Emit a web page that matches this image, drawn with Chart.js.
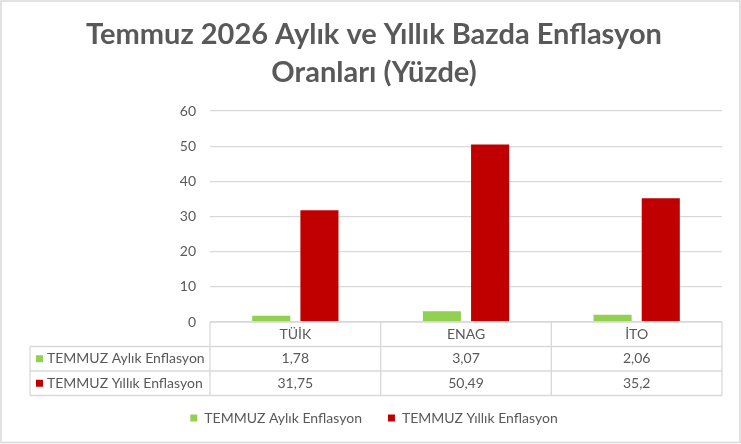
<!DOCTYPE html>
<html>
<head>
<meta charset="utf-8">
<script src="https://cdn.jsdelivr.net/npm/chart.js"></script>
<style>
  html, body { margin: 0; padding: 0; background: #fff; }
  canvas { display: block; }
</style>
</head>
<body>
<canvas id="chart" width="741" height="444"></canvas>
<script>
// data
const categories = ['TÜİK', 'ENAG', 'İTO']
const aylik = [1.78, 3.07, 2.06]
const yillik = [31.75, 50.49, 35.2]
const seriesNames = ['TEMMUZ Aylık Enflasyon', 'TEMMUZ Yıllık Enflasyon']
const yTicks = [0, 10, 20, 30, 40, 50, 60]
const titleLines = ['Temmuz 2026 Aylık ve Yıllık Bazda Enflasyon', 'Oranları (Yüzde)']

const GREEN = '#92D050'
const RED = '#C00000'
const TEXT = '#595959'
const LINE = '#D9D9D9'
const FONT = 'Lato, "Open Sans", sans-serif'

const fmt = v => String(v).replace('.', ',')

// border + white background
const frame = {
    id: 'frame',
    beforeDraw(chart) {
        const ctx = chart.ctx
        ctx.save()
        ctx.fillStyle = '#fff'
        ctx.fillRect(0, 0, chart.width, chart.height)
        ctx.strokeStyle = LINE
        ctx.lineWidth = 1.5
        ctx.strokeRect(1, 1, chart.width - 2, chart.height - 2.5)
        ctx.restore()
    }
}

// Excel style data table under the plot
const dataTable = {
    id: 'dataTable',
    afterDraw(chart) {
        const ctx = chart.ctx
        const x = chart.scales.x
        const area = chart.chartArea
        const top = area.bottom
        const rowH = 24.5
        const left = 30
        const catW = (area.right - area.left) / categories.length
        const rows = [
            { name: seriesNames[0], color: GREEN, values: aylik },
            { name: seriesNames[1], color: RED, values: yillik }
        ]
        const bottom = top + rowH * (rows.length + 1)

        ctx.save()
        ctx.strokeStyle = LINE
        ctx.lineWidth = 1.3
        ctx.beginPath()
        ctx.moveTo(area.left, top); ctx.lineTo(area.right, top)
        for (let r = 1; r <= rows.length + 1; r++) {
            ctx.moveTo(left, top + r * rowH); ctx.lineTo(area.right, top + r * rowH)
        }
        ctx.moveTo(left, top + rowH); ctx.lineTo(left, bottom)
        for (let i = 0; i <= categories.length; i++) {
            const cx = area.left + i * catW
            ctx.moveTo(cx, top); ctx.lineTo(cx, bottom)
        }
        ctx.stroke()

        ctx.font = '14px ' + FONT
        ctx.fillStyle = TEXT
        ctx.textBaseline = 'middle'
        ctx.textAlign = 'center'
        categories.forEach((c, i) => {
            ctx.fillText(c, x.getPixelForValue(i), top + rowH / 2)
        })
        rows.forEach((row, r) => {
            const cy = top + rowH * (r + 1.5)
            ctx.fillStyle = row.color
            ctx.fillRect(36, cy - 3.5, 7, 7)
            ctx.fillStyle = TEXT
            ctx.textAlign = 'left'
            ctx.fillText(row.name, 47, cy)
            ctx.textAlign = 'center'
            row.values.forEach((v, i) => {
                ctx.fillText(fmt(v), x.getPixelForValue(i), cy)
            })
        })
        ctx.restore()
    }
}

new Chart(document.getElementById('chart'), {
    type: 'bar',
    data: {
        labels: categories,
        datasets: [
            { label: seriesNames[0], data: aylik, backgroundColor: GREEN, borderWidth: 0 },
            { label: seriesNames[1], data: yillik, backgroundColor: RED, borderWidth: 0 }
        ]
    },
    options: {
        responsive: false,
        animation: false,
        devicePixelRatio: 1,
        categoryPercentage: 0.565,
        barPercentage: 0.79,
        layout: { padding: { left: 26, right: 19, top: 0, bottom: 9 } },
        plugins: {
            title: {
                display: true,
                text: titleLines,
                color: TEXT,
                font: { family: FONT, size: 29, weight: 'bold', lineHeight: 38 / 29 },
                padding: { top: 16, bottom: 19 }
            },
            legend: {
                position: 'bottom',
                labels: {
                    color: TEXT,
                    font: { family: FONT, size: 14 },
                    boxWidth: 7,
                    boxHeight: 7,
                    padding: 26
                }
            },
            tooltip: { enabled: false }
        },
        scales: {
            x: {
                ticks: { display: false },
                grid: { display: false },
                border: { display: false },
                afterFit: s => { s.height = 63 }
            },
            y: {
                min: yTicks[0],
                max: yTicks[yTicks.length - 1],
                afterBuildTicks: s => { s.ticks = yTicks.map(v => ({ value: v })) },
                ticks: { color: TEXT, font: { family: FONT, size: 14 }, padding: 14 },
                grid: { color: LINE, lineWidth: 1.3, drawTicks: false },
                border: { display: false },
                afterFit: s => { s.width = 184 }
            }
        }
    },
    plugins: [frame, dataTable]
})
</script>
</body>
</html>
